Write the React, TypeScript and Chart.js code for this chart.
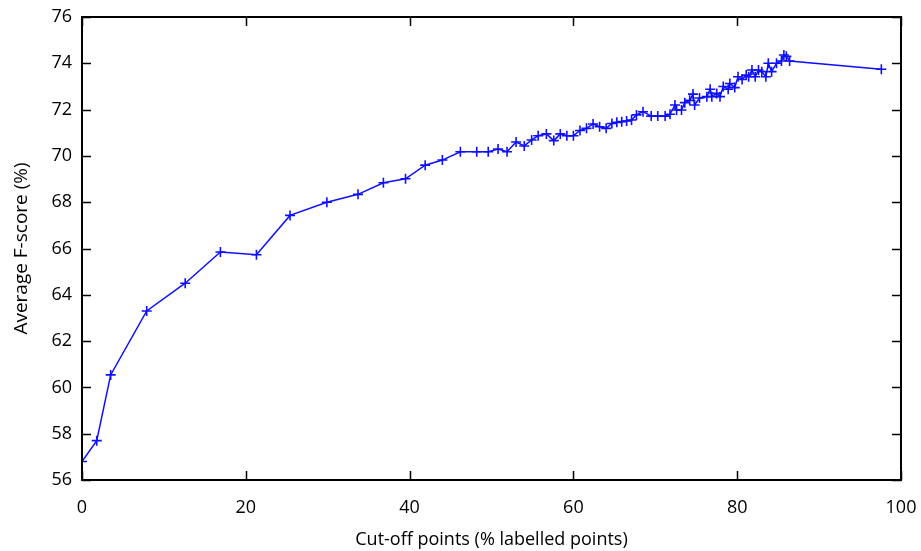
import React, { useEffect, useRef } from "react";
import { Chart, registerables } from "chart.js";

Chart.register(...registerables);

const cutoffPoints: number[] = [
  0, 1.8, 3.5, 7.9, 12.6, 16.9, 21.3, 25.4, 29.9, 33.7, 36.8, 39.5, 41.9, 44.0,
  46.2, 48.2, 49.6, 50.8, 51.9, 53.0, 54.0, 54.9, 55.7, 56.7, 57.6, 58.4, 59.2,
  60.0, 60.8, 61.6, 62.4, 63.2, 64.0, 64.7, 65.3, 65.9, 66.5, 67.1, 67.7, 68.5,
  69.5, 70.3, 71.2, 71.8, 72.4, 72.6, 73.2, 73.6, 74.2, 74.6, 74.8, 75.4, 76.3,
  76.7, 76.9, 77.5, 77.9, 78.3, 78.9, 79.1, 79.7, 80.1, 80.6, 81.1, 81.4, 81.8,
  82.2, 82.6, 83.0, 83.5, 83.8, 84.2, 84.8, 85.4, 85.7, 86.0, 86.4, 97.6,
];

const fScores: number[] = [
  56.8, 57.7, 60.54, 63.3, 64.5, 65.85, 65.73, 67.43, 68.0, 68.34, 68.84, 69.01,
  69.6, 69.82, 70.18, 70.18, 70.18, 70.3, 70.18, 70.6, 70.43, 70.69, 70.87,
  70.95, 70.66, 70.95, 70.87, 70.87, 71.1, 71.19, 71.38, 71.26, 71.19, 71.4,
  71.45, 71.48, 71.51, 71.55, 71.77, 71.91, 71.72, 71.72, 71.72, 71.8, 72.2,
  71.98, 71.98, 72.3, 72.4, 72.67, 72.2, 72.5, 72.56, 72.88, 72.56, 72.7, 72.56,
  73.0, 72.88, 73.13, 72.95, 73.42, 73.3, 73.49, 73.42, 73.71, 73.42, 73.71,
  73.64, 73.42, 74.0, 73.64, 74.0, 74.1, 74.36, 74.3, 74.1, 73.74,
];

const xTickValues: number[] = [0, 20, 40, 60, 80, 100];
const yTickValues: number[] = [56, 58, 60, 62, 64, 66, 68, 70, 72, 74, 76];

const xTitle = "Cut-off points (% labelled points)";
const yTitle = "Average F-score (%)";

const FONT = "'Open Sans', sans-serif";
const FSIZE = 18;

const framePlugin = {
  id: "gnuplotFrame",
  afterDraw(chart: any) {
    const { ctx, chartArea } = chart;
    const { left, right, top, bottom } = chartArea;
    const xs = chart.scales.x;
    const ys = chart.scales.y;
    const len = 9;
    ctx.save();
    ctx.strokeStyle = "#000";
    ctx.lineWidth = 1.5;
    ctx.beginPath();
    for (const v of xTickValues) {
      const px = Math.round(xs.getPixelForValue(v)) + 0.5;
      ctx.moveTo(px, bottom);
      ctx.lineTo(px, bottom - len);
      ctx.moveTo(px, top);
      ctx.lineTo(px, top + len);
    }
    for (const v of yTickValues) {
      const py = Math.round(ys.getPixelForValue(v)) + 0.5;
      ctx.moveTo(left, py);
      ctx.lineTo(left + len, py);
      ctx.moveTo(right, py);
      ctx.lineTo(right - len, py);
    }
    ctx.stroke();
    ctx.lineWidth = 2;
    ctx.strokeRect(left, top, right - left, bottom - top);
    ctx.restore();
  },
};

export default function App() {
  const ref = useRef<HTMLCanvasElement | null>(null);

  useEffect(() => {
    if (!ref.current) return;
    const data = cutoffPoints.map((x, i) => ({ x, y: fScores[i] }));
    const chart = new Chart(ref.current, {
      type: "scatter",
      data: {
        datasets: [
          {
            data,
            showLine: true,
            borderColor: "rgb(15,15,255)",
            backgroundColor: "rgb(15,15,255)",
            borderWidth: 1.5,
            pointStyle: "cross",
            pointRadius: 5,
            pointBorderWidth: 1.6,
            pointHoverRadius: 5,
            tension: 0,
          },
        ],
      },
      options: {
        animation: false,
        responsive: false,
        maintainAspectRatio: false,
        devicePixelRatio: 1,
        layout: { padding: { top: 17, right: 20, bottom: 0, left: 0 } },
        plugins: {
          legend: { display: false },
          tooltip: { enabled: false },
        },
        scales: {
          x: {
            type: "linear",
            min: 0,
            max: 100,
            afterBuildTicks: (s: any) => {
              s.ticks = xTickValues.map((v) => ({ value: v }));
            },
            afterFit: (s: any) => {
              s.height = 71;
              s.paddingLeft = 0;
              s.paddingRight = 0;
            },
            grid: { display: false, drawTicks: false },
            border: { display: false },
            ticks: {
              color: "#000",
              padding: 17,
              font: { family: FONT, size: FSIZE },
              maxRotation: 0,
            },
            title: {
              display: true,
              text: xTitle,
              color: "#000",
              font: { family: FONT, size: FSIZE },
              padding: { top: 2, bottom: 0 },
            },
          },
          y: {
            type: "linear",
            min: 56,
            max: 76,
            afterBuildTicks: (s: any) => {
              s.ticks = yTickValues.map((v) => ({ value: v }));
            },
            afterFit: (s: any) => {
              s.width = 82;
              s.paddingTop = 0;
              s.paddingBottom = 0;
            },
            grid: { display: false, drawTicks: false },
            border: { display: false },
            ticks: {
              color: "#000",
              padding: 10,
              font: { family: FONT, size: FSIZE },
            },
            title: {
              display: true,
              text: yTitle,
              color: "#000",
              font: { family: FONT, size: 19 },
              padding: { top: 10, bottom: 0 },
            },
          },
        },
      },
      plugins: [framePlugin],
    });
    return () => chart.destroy();
  }, []);

  return (
    <div style={{ position: "absolute", left: 0, top: 0, width: 921, height: 551, background: "#fff" }}>
      <canvas ref={ref} width={921} height={551} style={{ width: 921, height: 551, display: "block" }} />
    </div>
  );
}
